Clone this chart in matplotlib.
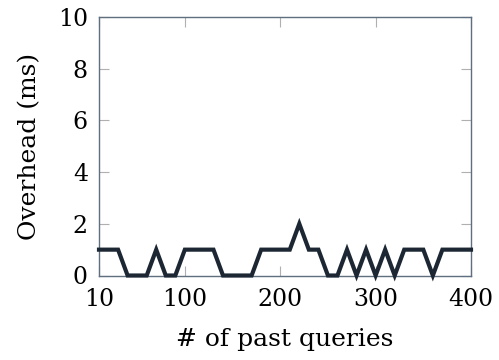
import numpy as np
import matplotlib
matplotlib.use('Agg')
import matplotlib.pyplot as plt

# overhead per number of past queries
queries = np.arange(10, 401, 10)
overhead = [1, 1, 1, 0, 0, 0, 1, 0, 0, 1,
            1, 1, 1, 0, 0, 0, 0, 1, 1, 1,
            1, 2, 1, 1, 0, 0, 1, 0, 1, 0,
            1, 0, 1, 1, 1, 0, 1, 1, 1, 1]
xticks = [10, 100, 200, 300, 400]
yticks = [0, 2, 4, 6, 8, 10]

plt.rcParams['font.family'] = ['DejaVu Serif']
plt.rcParams['font.size'] = 17

fig = plt.figure(figsize=(4.99, 3.60), dpi=100)
ax = fig.add_axes([99/499, 1 - 275.5/360, (471 - 99)/499, (275.5 - 17)/360])

ax.plot(queries, overhead, color='#1c2733', lw=3.0, solid_joinstyle='miter',
        clip_on=False, zorder=3)

ax.set_xlim(10, 400)
ax.set_ylim(0, 10)
ax.set_xticks(xticks)
ax.set_yticks(yticks)
ax.set_xlabel('# of past queries', fontsize=18, labelpad=12)
ax.set_ylabel('Overhead (ms)', fontsize=18, labelpad=12)

for s in ax.spines.values():
    s.set_color('#5f6f7f')
    s.set_linewidth(1.0)
ax.tick_params(direction='in', length=7, width=0.8, color='#b0b0b0',
               top=True, right=True)
ax.tick_params(axis='x', pad=9)
ax.tick_params(axis='y', pad=8)

fig.savefig('out.png', dpi=100)
